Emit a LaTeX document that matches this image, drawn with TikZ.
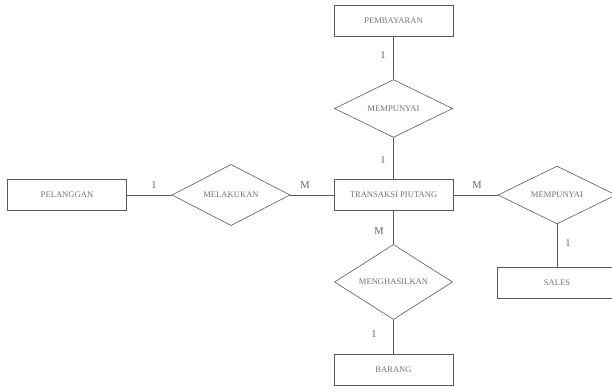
\documentclass[tikz,border=0pt]{standalone}
\usepackage{fontspec}
\setmainfont{Liberation Serif}
\usepackage{tikz}
\usetikzlibrary{shapes.geometric}

\begin{document}
\begin{tikzpicture}[%スタイル設定
          x=1pt,y=-1pt,
          garis/.style={draw=black!65,line width=0.6pt},
          entitas/.style={
              garis,
              rectangle,
              minimum width=119pt,
              minimum height=31pt,
              inner sep=0pt,
              text=black!55,
              font=\fontsize{8.6}{10}\selectfont
            },relasi/.style={
              garis,
              diamond,
              minimum width=118pt,
              minimum height=56pt,
              inner sep=0pt,
              text=black!55,
              font=\fontsize{8.6}{10}\selectfont
            },kardinal/.style={
              text=black!60,
              inner sep=0pt,
              font=\fontsize{10.5}{12}\selectfont
            }
        ]
        \clip (0,0) rectangle (612,387);

        % エンティティ
        \node[entitas] (pembayaran) at (393.5,20.5) {PEMBAYARAN};
        \node[entitas] (transaksi) at (393.5,195) {TRANSAKSI PIUTANG};
        \node[entitas] (pelanggan) at (67,195) {PELANGGAN};
        \node[entitas] (barang) at (393.5,369.5) {BARANG};
        \node[entitas] (sales) at (557,282.5) {SALES};

        % リレーション
        \node[relasi] (mempunyaiAtas) at (393.5,108.5) {MEMPUNYAI};
        \node[relasi] (melakukan) at (231,195) {MELAKUKAN};
        \node[relasi] (mempunyaiKanan) at (557,195) {MEMPUNYAI};
        \node[relasi] (menghasilkan) at (393.5,282) {MENGHASILKAN};

        % 接続線
        \draw[garis] (pembayaran) -- (mempunyaiAtas);
        \draw[garis] (mempunyaiAtas) -- (transaksi);
        \draw[garis] (pelanggan) -- (melakukan);
        \draw[garis] (melakukan) -- (transaksi);
        \draw[garis] (transaksi) -- (mempunyaiKanan);
        \draw[garis] (mempunyaiKanan) -- (sales);
        \draw[garis] (transaksi) -- (menghasilkan);
        \draw[garis] (menghasilkan) -- (barang);

        % カーディナリティ
        \node[kardinal] (k1) at (383,55) {1};
        \node[kardinal] (k2) at (383,160) {1};
        \node[kardinal] (k3) at (154,185) {1};
        \node[kardinal] (k4) at (305,185) {M};
        \node[kardinal] (k5) at (477,185) {M};
        \node[kardinal] (k6) at (379,231) {M};
        \node[kardinal] (k7) at (374,334) {1};
        \node[kardinal] (k8) at (568,243) {1};

      \end{tikzpicture}
\end{document}
